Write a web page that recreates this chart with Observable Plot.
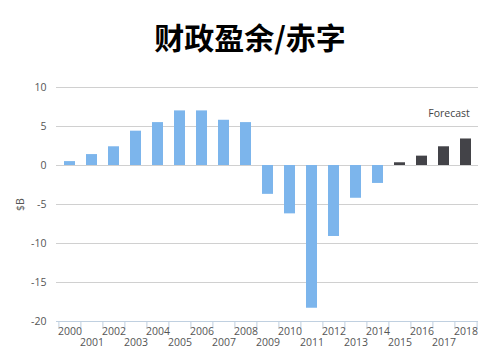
<!DOCTYPE html>
<html><head><meta charset="utf-8">
<script src="https://cdn.jsdelivr.net/npm/d3@7"></script>
<script src="https://cdn.jsdelivr.net/npm/@observablehq/plot@0.6"></script>
<style>
body{margin:0;background:#fff;width:500px;height:362px;overflow:hidden}
#title{height:70px;line-height:72px;text-align:center;font-family:"Noto Sans CJK SC",sans-serif;font-weight:bold;font-size:30px;color:#000}
</style></head><body>
<div id="title">财政盈余/赤字</div>
<div id="chart"></div>
<script>
const years = ["2000","2001","2002","2003","2004","2005","2006","2007","2008","2009","2010","2011","2012","2013","2014","2015","2016","2017","2018"];
const values = [0.5,1.4,2.4,4.4,5.5,7.0,7.0,5.8,5.5,-3.7,-6.2,-18.3,-9.1,-4.2,-2.3,0.35,1.2,2.4,3.4];
const forecast = [false,false,false,false,false,false,false,false,false,false,false,false,false,false,false,true,true,true,true];
const yTicks = [10,5,0,-5,-10,-15,-20];
const data = years.map((y,i)=>({year:y,value:values[i],forecast:forecast[i]}));
const evenYears = years.filter((d,i)=>i%2===0);
const oddYears = years.filter((d,i)=>i%2===1);
const W = 500, mL = 56, mR = 22;
const step = (W - mL - mR)/years.length;
const font = "'Open Sans', sans-serif";
const chart = Plot.plot({
  width: W, height: 292,
  marginLeft: mL, marginRight: mR, marginTop: 17, marginBottom: 41,
  style: {fontFamily: font, fontSize: "10.5px", color: "#555", background: "#fff"},
  x: {type: "band", domain: years, paddingInner: 0.52, paddingOuter: 0.26, align: 0.5},
  y: {domain: [-20, 10]},
  marks: [
    Plot.gridY(yTicks, {stroke: "#d0d0d0", strokeOpacity: 1, strokeWidth: 1}),
    Plot.barY(data, {x: "year", y: "value", fill: d => d.forecast ? "#434348" : "#7cb5ec"}),
    Plot.ruleY([-20], {stroke: "#c0d0e0", strokeWidth: 1}),
    Plot.ruleX(years, {x: d => d, dx: -step/2, y1: -20, y2: -21, stroke: "#c0d0e0"}),
    Plot.ruleX([years[years.length-1]], {x: d => d, dx: step/2, y1: -20, y2: -21, stroke: "#c0d0e0"}),
    Plot.axisX(evenYears, {tickSize: 0, tickPadding: 6, fill: "#555", label: null}),
    Plot.axisX(oddYears, {tickSize: 0, tickPadding: 17, fill: "#555", label: null}),
    Plot.axisY(yTicks, {tickSize: 0, tickPadding: 10, tickFormat: d => String(d), fill: "#555",
      label: "$B", labelAnchor: "center", labelArrow: "none", labelOffset: 40}),
    Plot.text(["Forecast"], {x: () => "2017", y: 6.7, dx: 5, text: d => d, fill: "#444", fontSize: 10.5})
  ]
});
document.getElementById("chart").appendChild(chart);
</script>
</body></html>
